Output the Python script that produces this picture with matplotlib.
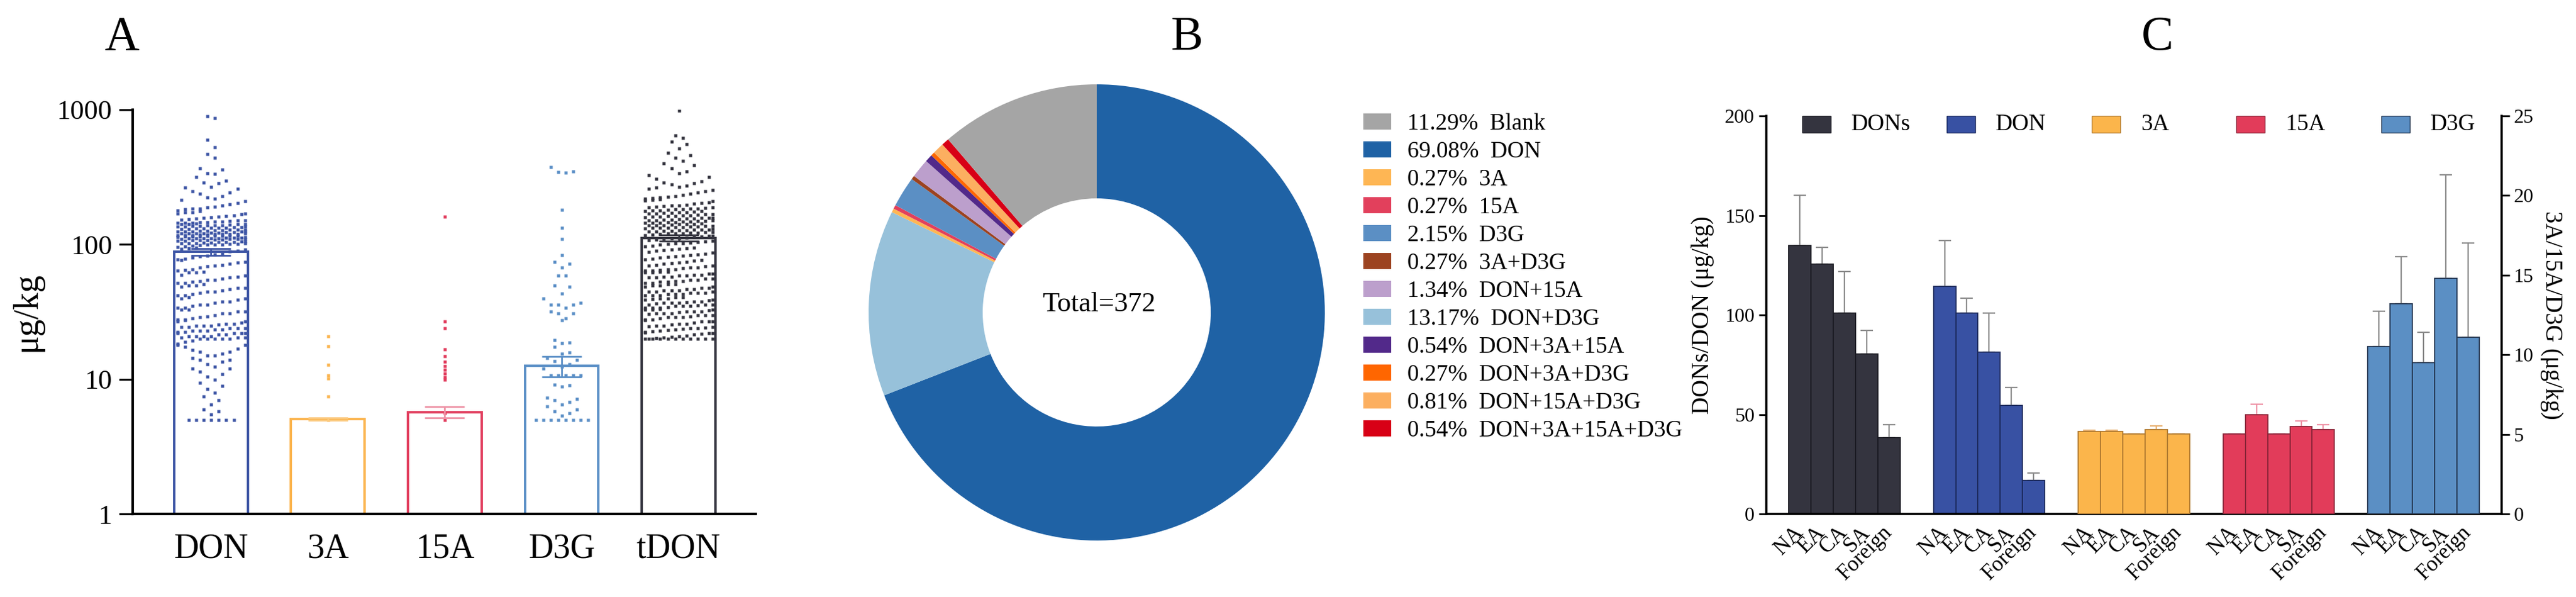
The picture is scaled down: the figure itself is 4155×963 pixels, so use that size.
import numpy as np
import matplotlib
matplotlib.use("Agg")
import matplotlib.pyplot as plt
from matplotlib.patches import Patch, Rectangle

plt.rcParams['font.family'] = ['Liberation Serif', 'DejaVu Serif']

## Panel A: column means with detected samples
cats_a = ['DON', '3A', '15A', 'D3G', 'tDON']
mean_a = [88, 5.08, 5.7, 12.6, 112]
sem_a = [5, 0.1, 0.55, 2.2, 6]
colors_a = ['#3D55A5', '#FBB44E', '#E23E5E', '#5B8FC6', '#34343F']
errcol_a = ['#3D55A5', '#FBC97E', '#EE93A6', '#5B8FC6', '#34343F']

don_pts = [900, 870, 600, 530, 470, 440, 370, 360, 340, 335, 320, 300,
           290, 285, 270, 265, 260, 250, 245, 240, 230, 225, 220, 215, 210, 205, 200,
           196, 192, 189, 186, 183, 180, 177, 174, 171, 168, 166, 163, 161, 159, 157, 155,
           153, 151, 150, 149, 148, 147, 146, 145, 145, 144, 143, 142, 142, 141, 140, 140,
           170, 160, 152, 147, 143, 185, 175,
           139, 138, 137, 136, 135, 135, 134, 133, 132, 132, 131, 130, 130, 129, 128, 128,
           127, 127, 126, 126, 125, 125, 125, 124, 124, 123, 123, 122, 122, 122, 121, 121,
           120, 120, 120, 120, 119, 119, 118, 118, 118, 117, 117, 116, 116, 116, 115, 115,
           115, 114, 114, 113, 113, 113, 112, 112, 112, 111, 111, 110, 110, 110, 110, 109,
           109, 108, 108, 108, 107, 107, 106, 106, 105, 105, 105, 104, 104, 103, 103, 102,
           102, 101, 101, 100, 100, 100, 138, 136, 134, 131,
           99, 98, 97, 96, 95, 94, 93, 92, 90, 89,
           86, 85, 83, 82, 80, 78, 77, 75, 74, 72, 70, 69, 68, 66, 65, 64, 63, 62, 60, 59,
           58, 57, 56, 55, 55, 54, 53, 52, 52, 51, 50, 50, 62, 71, 79,
           49, 48, 48, 47, 46, 45, 45, 44, 43, 42, 42, 41, 40, 40, 39, 38, 38, 37, 36, 36,
           35, 34, 34, 33, 33, 32, 32, 31, 31, 30,
           29.5, 29, 28.5, 28, 28, 27.5, 27, 27, 26.5, 26, 26, 25.5, 25, 25, 25, 24.5, 24.5,
           24, 24, 24, 23.5, 23.5, 23, 23, 23, 22.5, 22.5, 22, 22, 22, 22, 21.5, 21.5, 21,
           21, 21, 21, 20.5, 20.5, 20.5, 20, 20, 20, 20, 20,
           19.5, 19, 18.5, 18, 18, 17.5, 17, 16.5, 16, 16, 15.5, 15, 15, 14.5, 14, 14, 13.5,
           13, 12.5, 12, 12, 11.5, 11, 10.5, 10,
           9.5, 9, 8.5, 8, 7.5, 7, 6.5, 6, 5.8, 5.5, 5, 5, 5, 5, 5, 5, 5]
a3_pts = [21, 17.7, 12.8, 10.7, 10.2, 7.5, 5.0]
a15_pts = [162, 27, 24, 16.7, 14.9, 13.5, 12.6, 11.8, 11.1, 10.4, 10.0, 5.6, 5.0]
d3g_pts = [379, 350, 345, 342, 182, 133, 110, 84, 75, 72, 68, 59, 59, 50, 49, 43.5,
           40, 37, 36, 36, 35.8, 34, 32, 31, 31, 28.5, 27.5, 19.6, 18.9, 18.7, 17.5,
           15.9, 15.6, 14.4, 14, 13.7, 13, 12.5, 12, 10.7, 10.7, 10.7, 10.7, 10.7,
           9.2, 9.1, 8.9, 7.3, 7.2, 7.0, 6.8, 6.5, 6.3, 6.0, 5.8, 5.6, 5.4,
           5, 5, 5, 5, 5, 5, 5, 5]
tdon_pts = [990, 650, 620, 580, 560, 520,
            480, 460, 440, 420, 400, 390, 370, 350, 340, 330, 320, 310,
            295, 290, 285, 280, 275, 270, 265, 260, 255, 250, 245, 240, 235, 230, 228, 225,
            222, 220, 218, 215, 212, 210, 207, 204, 201,
            198, 196, 195, 193, 192, 190, 189, 188, 186, 185, 184, 183, 182, 180, 179, 178,
            177, 176, 175, 174, 173, 172, 171, 170, 169, 168, 167, 166, 165, 164, 163, 162,
            161, 160, 159, 158, 157, 156, 155, 154, 153, 152, 151, 150, 149, 148, 147, 146,
            145, 144, 143, 142, 141, 140, 139, 138, 137, 136, 135, 134, 133, 132, 131, 130,
            129, 128, 127, 126, 125, 124, 123, 122, 121, 120, 158, 152, 147, 143, 138, 134,
            130, 127, 124, 121, 150, 145, 140, 135, 128, 123,
            119, 118, 117, 116, 115, 114, 113, 112, 111, 110, 109, 108, 107, 106, 105, 104,
            103, 102, 101, 100,
            98, 97, 95, 94, 92, 91, 90, 88, 87, 85, 84, 83, 82, 80, 79, 78, 77, 76, 75, 74,
            73, 72, 71, 70, 70, 69, 68, 68, 67, 66, 66, 65, 64, 64, 63, 63, 62, 62, 61, 61,
            60, 60, 86, 81, 93,
            59, 59, 58, 58, 57, 57, 56, 56, 55, 55, 54, 54, 53, 53, 52, 52, 51, 51, 50, 50,
            49, 49, 48, 48, 47, 47, 46, 46, 46, 45, 45, 45, 44, 44, 44, 43, 43, 43, 42, 42,
            42, 41, 41, 40, 40,
            39.5, 39, 39, 38.5, 38, 38, 37.5, 37, 37, 36.5, 36, 36, 35.5, 35, 35, 34.5, 34,
            34, 33.5, 33, 33, 32.5, 32, 32, 31.5, 31, 31, 30.5, 30, 30, 29.5, 29, 29, 28.5,
            28, 28, 27.5, 27, 27, 26.5, 26, 26, 25.5, 25, 25, 33, 35, 37, 31, 29, 27, 34, 36,
            32, 30,
            24.8, 24.5, 24.2, 24, 23.8, 23.5, 23.2, 23, 22.8, 22.5, 22.2, 22, 21.8, 21.5,
            21.2, 21, 20.8, 20.5, 20.2, 20, 20, 20, 20, 20, 20, 20, 20, 20, 20, 20, 22, 24]
pts_a = [don_pts, a3_pts, a15_pts, d3g_pts, tdon_pts]
# vertical bin (decades) used to spread overlapping dots; 0 keeps a single column
swarm_bin = [0.09, 0, 0, 0.09, 0.09]

## Panel B: detection pattern shares (legend order)
pie_labels = ['Blank', 'DON', '3A', '15A', 'D3G', '3A+D3G', 'DON+15A', 'DON+D3G',
              'DON+3A+15A', 'DON+3A+D3G', 'DON+15A+D3G', 'DON+3A+15A+D3G']
pie_pct = [11.29, 69.08, 0.27, 0.27, 2.15, 0.27, 1.34, 13.17, 0.54, 0.27, 0.81, 0.54]
pie_colors = ['#A5A5A5', '#1F62A5', '#FEB654', '#E2405C', '#5B8FC4', '#9C4320',
              '#BC9FCC', '#97C1DA', '#52298A', '#FF6600', '#FCAF60', '#D80016']
# order the slices appear clockwise from 12 o'clock
pie_order = ['DON', 'DON+D3G', '3A', '15A', 'D3G', '3A+D3G', 'DON+15A', 'DON+3A+15A',
             'DON+3A+D3G', 'DON+15A+D3G', 'DON+3A+15A+D3G', 'Blank']
total_n = 372

## Panel C: by region
regions = ['NA', 'EA', 'CA', 'SA', 'Foreign']
groups_c = ['DONs', 'DON', '3A', '15A', 'D3G']
dons_mean = [134.9, 125.7, 101.0, 80.4, 38.3]
dons_err = [25.3, 8.3, 20.7, 11.8, 6.7]
don_mean = [114.4, 101.0, 81.3, 54.4, 16.8]
don_err = [23.0, 7.3, 19.7, 9.1, 3.9]
a3_mean = [5.19, 5.19, 5.02, 5.29, 5.02]
a3_err = [0.07, 0.07, 0.0, 0.26, 0.0]
a15_mean = [5.02, 6.22, 5.02, 5.50, 5.29]
a15_err = [0.0, 0.69, 0.0, 0.36, 0.33]
d3g_mean = [10.53, 13.2, 9.52, 14.8, 11.1]
d3g_err = [2.22, 2.95, 1.89, 6.5, 5.9]
colors_c = ['#34343F', '#3851A3', '#FBB54B', '#E23C5A', '#5B8FC4']
edges_c = ['#1A1A22', '#1C2A5C', '#B07A30', '#8A2438', '#243650']
errcol_c = ['#8C8C8C', '#8C8C8C', '#E8B070', '#EE93A6', '#8C8C8C']


def swarm(vals, center, binw, step=0.064, ncol=10):
    # spread dots sharing a vertical bin, centre-out, like a column scatter
    vals = np.asarray(vals, float)
    xs = np.full(len(vals), float(center))
    if binw <= 0:
        return xs, vals
    b = np.floor(np.log10(vals) / binw)
    half = (ncol - 1) / 2 * step
    for k in np.unique(b):
        idx = np.where(b == k)[0]
        idx = idx[np.argsort(vals[idx])]
        n = len(idx)
        if n <= ncol:
            if n % 2:
                offs = np.array([((j + 1) // 2) * step * (1 if j % 2 else -1) for j in range(n)])
            else:
                offs = np.array([(j // 2 + 0.5) * step * (1 if j % 2 == 0 else -1)
                                 for j in range(n)])
        else:
            offs = (np.arange(n) % ncol - (ncol - 1) / 2) * step
            offs = offs + ((np.arange(n) // ncol) % 2) * step / 2
            offs = np.clip(offs, -half, half)
        xs[idx] = center + offs
    return xs, vals


fig = plt.figure(figsize=(41.55, 9.63), dpi=100)

# ---------------- A ----------------
axa = fig.add_axes([0.0515, 0.1391, 0.2419, 0.6771])
xa = np.arange(len(cats_a))
axa.bar(xa, mean_a, width=0.63, facecolor='none', edgecolor=colors_a, linewidth=2.8, zorder=2)
for i in range(len(cats_a)):
    sx, sy = swarm(pts_a[i], xa[i], swarm_bin[i])
    axa.plot(sx, sy, 's', ms=3.6, color=colors_a[i], mec='none', zorder=3)
    axa.errorbar(xa[i], mean_a[i], yerr=sem_a[i], fmt='none', ecolor=errcol_a[i],
                 elinewidth=2, capsize=23, capthick=2, zorder=4)
axa.set_yscale('log')
axa.set_ylim(1, 1000)
axa.set_xlim(-0.67, 4.66)
axa.set_yticks([1, 10, 100, 1000], labels=['1', '10', '100', '1000'])
axa.minorticks_off()
axa.set_xticks(xa, labels=cats_a)
axa.tick_params(axis='y', labelsize=32, length=16, width=2.3, pad=8)
axa.tick_params(axis='x', labelsize=40, length=0, pad=22)
for s in ['top', 'right']:
    axa.spines[s].set_visible(False)
for s in ['left', 'bottom']:
    axa.spines[s].set_linewidth(3)
axa.set_ylabel('μg/kg', fontsize=40, labelpad=16)

# ---------------- B ----------------
axb = fig.add_axes([0.3372, 0.0945, 0.1771, 0.7643])
vals_b = [pie_pct[pie_labels.index(n)] for n in pie_order]
cols_b = [pie_colors[pie_labels.index(n)] for n in pie_order]
axb.pie(vals_b, colors=cols_b, startangle=90, counterclock=False, radius=1,
        wedgeprops=dict(width=0.5, linewidth=0))
axb.set_xlim(-1, 1)
axb.set_ylim(-1, 1)
axb.set_aspect('equal')
axb.text(0.01, 0.035, 'Total=%d' % total_n, ha='center', va='center', fontsize=32)
handles = [Patch(facecolor=c, edgecolor='none') for c in pie_colors]
labels = ['%.2f%%  %s' % (p, n) for p, n in zip(pie_pct, pie_labels)]
fig.legend(handles, labels, loc='upper left', bbox_to_anchor=(0.5292, 0.81),
           frameon=False, fontsize=27, handlelength=1.2, handleheight=0.68,
           handletextpad=0.7, labelspacing=0.28, borderpad=0, borderaxespad=0)

# ---------------- C ----------------
axc = fig.add_axes([0.6857, 0.1391, 0.2854, 0.6667])
ax2 = axc.twinx()
means_c = [dons_mean, don_mean, a3_mean, a15_mean, d3g_mean]
errs_c = [dons_err, don_err, a3_err, a15_err, d3g_err]
gap = 6.5
xpos = []
for g in range(len(groups_c)):
    x = g * gap + np.arange(len(regions))
    xpos.extend(x)
    ax = axc if g < 2 else ax2
    ax.bar(x, means_c[g], width=1, color=colors_c[g], edgecolor=edges_c[g], linewidth=1.3,
           zorder=2)
    ax.errorbar(x, means_c[g], yerr=[np.zeros(len(regions)), errs_c[g]], fmt='none',
                ecolor=errcol_c[g], elinewidth=1.6, capsize=7, capthick=1.6, zorder=1)
    # legend square + text above each group
    axc.add_patch(Rectangle((g * gap + 0.1, 0.958), 1.28, 0.042, facecolor=colors_c[g],
                            edgecolor=edges_c[g], linewidth=1,
                            transform=axc.get_xaxis_transform(), clip_on=False))
    axc.text(g * gap + 2.3, 0.979, groups_c[g], fontsize=27, va='center', ha='left',
             transform=axc.get_xaxis_transform())
axc.set_xlim(-1.5, 31.5)
axc.set_ylim(0, 200)
ax2.set_ylim(0, 25)
axc.set_yticks([0, 50, 100, 150, 200])
ax2.set_yticks([0, 5, 10, 15, 20, 25])
axc.set_xticks(xpos, labels=regions * len(groups_c))
for lab in axc.get_xticklabels():
    lab.set_rotation(45)
    lab.set_ha('right')
    lab.set_va('center')
    lab.set_rotation_mode('anchor')
axc.tick_params(axis='x', labelsize=25, length=0, pad=18)
axc.tick_params(axis='y', labelsize=23, length=9, width=2, pad=5)
ax2.tick_params(axis='y', labelsize=23, length=9, width=2, pad=5)
axc.spines['top'].set_visible(False)
ax2.spines['top'].set_visible(False)
ax2.spines['left'].set_visible(False)
ax2.spines['bottom'].set_visible(False)
axc.spines['right'].set_visible(False)
for s in [axc.spines['left'], axc.spines['bottom'], ax2.spines['right']]:
    s.set_linewidth(2.6)
axc.set_ylabel('DONs/DON (μg/kg)', fontsize=28, labelpad=12)
ax2.set_ylabel('3A/15A/D3G (μg/kg)', fontsize=28, rotation=270, labelpad=34)

# panel letters
fig.text(0.0472, 0.9367, 'A', fontsize=56, ha='center', va='center')
fig.text(0.4607, 0.9367, 'B', fontsize=56, ha='center', va='center')
fig.text(0.8375, 0.9367, 'C', fontsize=56, ha='center', va='center')

fig.savefig('out.png', dpi=100)
